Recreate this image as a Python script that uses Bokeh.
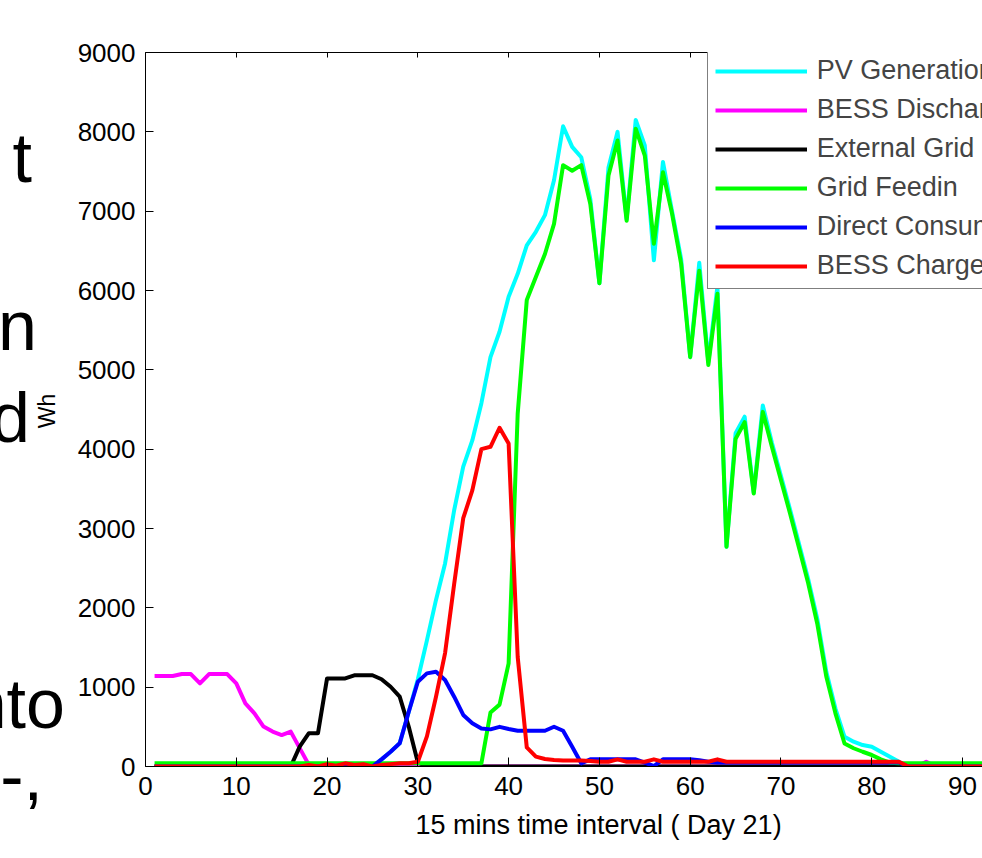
from bokeh.plotting import figure
from bokeh.models import (ColumnDataSource, Range1d, LinearAxis, FixedTicker,
                          Legend, LegendItem, Title, Div)
from bokeh.layouts import row
from bokeh.embed import file_html
from bokeh.resources import INLINE

# ---------------- data (15-min intervals, Day 21) ----------------
intervals = list(range(1, 97))

pv_generation = [
    0, 0, 0, 0, 0, 0, 0, 0, 0, 0,
    0, 0, 0, 0, 0, 0, 0, 0, 0, 0,
    0, 0, 0, 0, 0, 90, 186, 292, 690, 1100,
    1590, 2100, 2560, 3230, 3780, 4110, 4580, 5160, 5480, 5920,
    6210, 6570, 6740, 6950, 7390, 8070, 7810, 7680, 7150, 6090,
    7550, 8000, 6900, 8150, 7830, 6380, 7620, 7000, 6400, 5160,
    6350, 5100, 6050, 2770, 4200, 4410, 3450, 4550, 4080, 3660,
    3240, 2800, 2360, 1860, 1190, 730, 375, 313, 270, 250,
    186, 124, 60, 0, 0, 0, 0, 0, 0, 0,
    0, 0, 0, 0, 0, 0]

bess_discharge = [
    1140, 1140, 1140, 1165, 1165, 1048, 1165, 1165, 1165, 1048,
    796, 670, 503, 440, 397, 440, 229, 20, 0, 0,
    0, 0, 0, 0, 0, 0, 0, 0, 0, 0,
    0, 0, 0, 0, 0, 0, 0, 0, 0, 0,
    0, 0, 0, 0, 0, 0, 0, 0, 0, 0,
    0, 0, 0, 0, 0, 0, 0, 0, 0, 0,
    0, 0, 0, 0, 0, 0, 0, 0, 0, 0,
    0, 0, 0, 0, 0, 0, 0, 0, 0, 0,
    0, 0, 0, 0, 0, 60, 0, 0, 0, 0,
    0, 0, 0, 0, 0, 0]

external_grid = [
    0, 0, 0, 0, 0, 0, 0, 0, 0, 0,
    0, 0, 0, 0, 0, 0, 254, 420, 420, 1110,
    1110, 1110, 1150, 1150, 1150, 1100, 1005, 880, 500, 50,
    0, 0, 0, 0, 0, 0, 0, 0, 0, 0,
    0, 0, 0, 0, 0, 0, 0, 0, 0, 0,
    0, 0, 0, 0, 0, 0, 0, 0, 0, 0,
    0, 0, 0, 0, 0, 0, 0, 0, 0, 0,
    0, 0, 0, 0, 0, 0, 0, 0, 0, 0,
    0, 0, 0, 0, 0, 0, 0, 0, 0, 0,
    0, 0, 0, 0, 0, 0]

grid_feedin = [
    40, 40, 40, 40, 40, 40, 40, 40, 40, 40,
    40, 40, 40, 40, 40, 40, 40, 40, 40, 40,
    40, 40, 40, 40, 40, 40, 40, 40, 40, 40,
    40, 40, 40, 40, 40, 40, 40, 680, 780, 1300,
    4450, 5880, 6170, 6460, 6840, 7580, 7510, 7580, 7090, 6090,
    7450, 7890, 6880, 8040, 7700, 6590, 7490, 6970, 6340, 5160,
    6250, 5060, 5960, 2770, 4130, 4340, 3440, 4470, 4030, 3610,
    3190, 2750, 2310, 1800, 1130, 670, 290, 230, 186, 145,
    90, 48, 40, 40, 40, 40, 40, 40, 40, 40,
    40, 40, 40, 40, 40, 40]

direct_consumption = [
    0, 0, 0, 0, 0, 0, 0, 0, 0, 0,
    0, 0, 0, 0, 0, 0, 0, 0, 0, 0,
    0, 0, 0, 0, 0, 90, 186, 292, 690, 1068,
    1174, 1194, 1090, 880, 650, 545, 480, 468, 500, 472,
    451, 451, 451, 451, 501, 451, 250, 40, 90, 90,
    90, 90, 90, 90, 50, 5, 90, 90, 90, 90,
    80, 60, 50, 50, 50, 50, 50, 50, 50, 50,
    50, 50, 50, 50, 50, 50, 50, 50, 50, 50,
    50, 50, 50, 0, 0, 0, 0, 0, 0, 0,
    0, 0, 0, 0, 0, 0]

bess_charge = [
    0, 0, 0, 0, 0, 0, 0, 0, 0, 0,
    0, 0, 0, 0, 0, 0, 0, 20, 0, 30,
    10, 40, 20, 30, 0, 20, 30, 40, 40, 60,
    380, 880, 1430, 2300, 3130, 3480, 4000, 4030, 4270, 4070,
    1380, 240, 124, 95, 82, 75, 75, 75, 70, 60,
    60, 90, 60, 60, 60, 90, 60, 60, 60, 60,
    60, 60, 90, 60, 60, 60, 60, 60, 60, 60,
    60, 60, 60, 60, 60, 60, 60, 60, 60, 60,
    60, 60, 60, 0, 0, 0, 0, 0, 0, 0,
    0, 0, 0, 0, 0, 0]

series_names = ["PV Generation", "BESS Discharge", "External Grid",
                "Grid Feedin", "Direct Consumption", "BESS Charge"]
series_colors = ["#00FFFF", "#FF00FF", "#000000", "#00FF00", "#0000FF", "#FF0000"]

x_ticks = [0, 10, 20, 30, 40, 50, 60, 70, 80, 90]
y_ticks = [0, 1000, 2000, 3000, 4000, 5000, 6000, 7000, 8000, 9000]
x_label = "15 mins time interval ( Day 21)"
y_label = "Wh"
side_text = ["t", "n", "d", "nto", "-,"]

FONT = "Liberation Sans"

# ---------------- left strip: cropped page text + y-axis title ----------------
STRIP_W = 66
FRAG_FS = 70
frag_right = [32, 37, 30, 65, 43]        # right edge of each fragment (px)
frag_base = [182, 350, 442, 728, 800]    # baseline of each fragment (px)
spans = []
for t, r, b in zip(side_text, frag_right, frag_base):
    top = b - 0.8465 * FRAG_FS
    spans.append(
        f'<span style="position:absolute;right:{STRIP_W - r}px;top:{top:.1f}px;'
        f'font-size:{FRAG_FS}px;line-height:{FRAG_FS}px;white-space:nowrap;">{t}</span>')
spans.append(
    '<span style="position:absolute;left:47px;top:411px;font-size:23px;'
    'line-height:23px;white-space:nowrap;'
    f'transform:translate(-50%,-50%) rotate(-90deg);">{y_label}</span>')
strip_html = (f'<div style="position:relative;width:{STRIP_W}px;height:858px;'
              "overflow:hidden;font-family:'Liberation Sans',sans-serif;color:#000;\">"
              + "".join(spans) + "</div>")
strip = Div(text=strip_html, width=STRIP_W, height=858, margin=0)

# ---------------- figure ----------------
p = figure(width=982 - STRIP_W, height=858, output_backend="svg", toolbar_location=None,
           x_range=Range1d(0, 92.2), y_range=Range1d(0, 9000),
           x_axis_location=None, y_axis_location=None,
           min_border_left=145 - STRIP_W, min_border_right=0,
           min_border_top=52, min_border_bottom=92, margin=0)
p.outline_line_color = None
p.grid.grid_line_color = None
p.background_fill_color = "white"
p.border_fill_color = "white"

def style_axis(ax, size, tick_in):
    ax.major_label_text_font = FONT
    ax.major_label_text_font_size = size
    ax.major_label_text_color = "black"
    ax.major_tick_in = tick_in
    ax.major_tick_out = 0
    ax.minor_tick_line_color = None
    ax.axis_line_color = "black"
    ax.major_tick_line_color = "black"
    ax.major_label_standoff = 10

xaxis = LinearAxis(ticker=FixedTicker(ticks=x_ticks))
style_axis(xaxis, "26px", 9)
p.add_layout(xaxis, "below")

yaxis = LinearAxis(ticker=FixedTicker(ticks=y_ticks))
style_axis(yaxis, "26px", 8)
p.add_layout(yaxis, "left")

top_axis = LinearAxis(ticker=FixedTicker(ticks=x_ticks))
style_axis(top_axis, "0px", 5)
top_axis.major_label_text_color = None
top_axis.major_label_standoff = 0
p.add_layout(top_axis, "above")

# x-axis title, centred where the original (full-width) axis centre was
p.add_layout(Title(text=x_label, align="left", offset=270, standoff=21,
                   text_font=FONT, text_font_size="27px",
                   text_font_style="normal", text_color="black"), "below")

all_series = [pv_generation, bess_discharge, external_grid,
              grid_feedin, direct_consumption, bess_charge]
renderers = []
for vals, color in zip(all_series, series_colors):
    src = ColumnDataSource(dict(x=intervals, y=vals))
    r = p.line("x", "y", source=src, line_color=color, line_width=4,
               line_join="round")
    renderers.append(r)

legend = Legend(items=[LegendItem(label=n, renderers=[r])
                       for n, r in zip(series_names, renderers)],
                location=(561.7, 477), glyph_width=92, glyph_height=30,
                label_height=30, spacing=8, padding=7, label_standoff=10,
                margin=0, border_line_color="black", border_line_width=1,
                background_fill_color="white", background_fill_alpha=1,
                label_text_font=FONT, label_text_font_size="27px",
                label_text_baseline="middle")
p.add_layout(legend)

layout = row(strip, p, spacing=0)
open("out.html", "w").write(file_html(layout, INLINE))
